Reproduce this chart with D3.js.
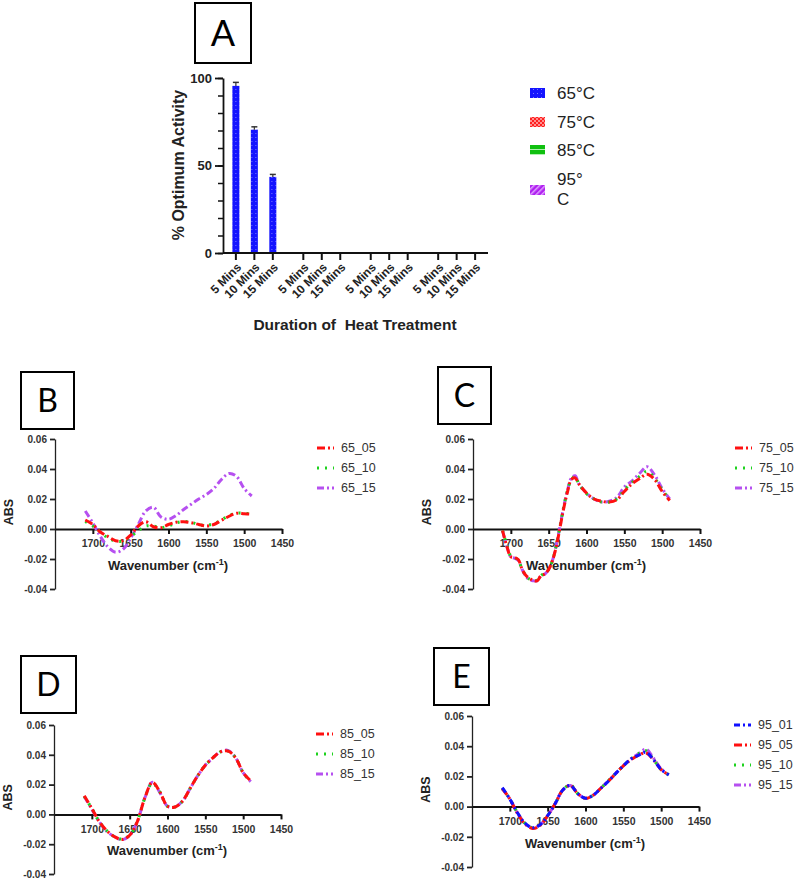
<!DOCTYPE html>
<html>
<head>
<meta charset="utf-8">
<script src="https://cdn.jsdelivr.net/npm/d3@7"></script>
<style>
  body { margin: 0; background: #fff; }
  text { font-family: 'Liberation Sans', Arial, sans-serif; }
</style>
</head>
<body>
<div id="chart"></div>
<script>
// ---------- Panel A data ----------
const temps = ['65°C', '75°C', '85°C', '95°C'];
const durations = ['5 Mins', '10 Mins', '15 Mins'];
const activity65 = [95.5, 70.5, 43.5];
const activity75 = [0, 0, 0];
const activity85 = [0, 0, 0];
const activity95 = [0, 0, 0];
const err65 = [2.0, 1.6, 1.4];
const err75 = [0, 0, 0];
const err85 = [0, 0, 0];
const err95 = [0, 0, 0];
const activityTicks = [0, 50, 100];

// ---------- FTIR spectra ----------
const absTicks = [-0.04, -0.02, 0, 0.02, 0.04, 0.06];
const wavenumberTicks = [1700, 1650, 1600, 1550, 1500, 1450];

const wnGrid = [1710, 1700, 1690, 1680, 1670, 1660, 1650, 1640, 1630, 1620, 1610, 1600,
                1590, 1580, 1570, 1560, 1550, 1540, 1530, 1520, 1510, 1500, 1490];

const abs65_05 = [0.006, 0.003, -0.002, -0.005, -0.0078, -0.0078, -0.004, 0.002, 0.0048, 0.0015, 0.0008, 0.003,
                  0.0045, 0.0048, 0.0042, 0.003, 0.002, 0.003, 0.0058, 0.0085, 0.0105, 0.0102, 0.0098];
const abs65_10 = [0.005, 0.002, -0.002, -0.006, -0.008, -0.008, -0.005, -0.001, 0.002, 0.002, 0.001, 0.002,
                  0.004, 0.005, 0.0045, 0.003, 0.0025, 0.0035, 0.006, 0.009, 0.0105, 0.0105, 0.010];
const abs65_15 = [0.012, 0.004, -0.005, -0.012, -0.0155, -0.0135, -0.006, 0.003, 0.012, 0.0145, 0.008, 0.0065,
                  0.009, 0.013, 0.0165, 0.020, 0.023, 0.027, 0.033, 0.037, 0.035, 0.027, 0.022];

const wnC = [1711, 1705, 1700, 1695, 1690, 1685, 1680, 1675, 1670, 1665, 1660, 1655, 1650, 1645, 1640,
             1635, 1630, 1625, 1620, 1615, 1610, 1600, 1590, 1580, 1570, 1560, 1550, 1540, 1530, 1520,
             1510, 1500, 1490];
const abs75_05 = [-0.001, -0.012, -0.0185, -0.019, -0.0205, -0.027, -0.031, -0.033, -0.0345, -0.0345, -0.031,
                  -0.030, -0.027, -0.021, -0.012, 0.001, 0.014, 0.025, 0.033, 0.034, 0.030, 0.024, 0.020,
                  0.0185, 0.018, 0.0195, 0.025, 0.030, 0.0335, 0.0365, 0.033, 0.025, 0.019];
const abs75_10 = [-0.001, -0.011, -0.018, -0.019, -0.021, -0.027, -0.031, -0.0335, -0.0345, -0.034, -0.031,
                  -0.0295, -0.027, -0.021, -0.011, 0.002, 0.015, 0.026, 0.033, 0.035, 0.030, 0.0235, 0.020,
                  0.018, 0.018, 0.020, 0.026, 0.031, 0.035, 0.0385, 0.034, 0.026, 0.020];
const abs75_15 = [-0.001, -0.012, -0.0185, -0.0195, -0.021, -0.027, -0.0315, -0.034, -0.0345, -0.0345, -0.031,
                  -0.030, -0.027, -0.021, -0.011, 0.002, 0.015, 0.026, 0.034, 0.0355, 0.030, 0.024, 0.020,
                  0.018, 0.0185, 0.021, 0.028, 0.032, 0.037, 0.0415, 0.036, 0.027, 0.020];

const abs85_05 = [0.0125, 0.004, -0.005, -0.011, -0.015, -0.0168, -0.014, -0.005, 0.011, 0.0215, 0.015, 0.0055,
                  0.005, 0.009, 0.0175, 0.026, 0.033, 0.038, 0.042, 0.0425, 0.038, 0.028, 0.0225];
const abs85_10 = [0.012, 0.004, -0.005, -0.011, -0.015, -0.0165, -0.014, -0.005, 0.011, 0.021, 0.015, 0.0055,
                  0.005, 0.009, 0.0175, 0.026, 0.033, 0.038, 0.042, 0.0425, 0.038, 0.028, 0.022];
const abs85_15 = [0.012, 0.0035, -0.005, -0.0115, -0.015, -0.017, -0.014, -0.005, 0.011, 0.0215, 0.0145, 0.0055,
                  0.005, 0.009, 0.0175, 0.026, 0.033, 0.038, 0.042, 0.043, 0.038, 0.028, 0.022];

const abs95_01 = [0.0125, 0.005, -0.004, -0.011, -0.014, -0.012, -0.006, 0.002, 0.011, 0.014, 0.0085, 0.0055,
                  0.0075, 0.012, 0.0167, 0.022, 0.027, 0.0315, 0.034, 0.036, 0.031, 0.0245, 0.021];
const abs95_05 = [0.012, 0.005, -0.0045, -0.0115, -0.0145, -0.0125, -0.006, 0.002, 0.011, 0.014, 0.0085, 0.0055,
                  0.0075, 0.012, 0.0167, 0.022, 0.027, 0.031, 0.034, 0.0355, 0.031, 0.0245, 0.021];
const abs95_10 = [0.012, 0.005, -0.004, -0.011, -0.014, -0.012, -0.006, 0.002, 0.011, 0.0145, 0.0085, 0.0055,
                  0.0075, 0.012, 0.017, 0.022, 0.027, 0.0315, 0.035, 0.037, 0.031, 0.0245, 0.021];
const abs95_15 = [0.012, 0.005, -0.004, -0.011, -0.014, -0.012, -0.006, 0.002, 0.011, 0.014, 0.0085, 0.0055,
                  0.0075, 0.012, 0.017, 0.022, 0.027, 0.0315, 0.035, 0.038, 0.032, 0.025, 0.021];

const RED = '#ff1010', GREEN = '#1ed21e', PURPLE = '#b650f0', BLUE = '#1010ff';

const svg = d3.select('#chart').append('svg')
  .attr('width', 795)
  .attr('height', 881);

// ---------- patterns for bar fills ----------
const defs = svg.append('defs');
const pBlue = defs.append('pattern').attr('id', 'p65').attr('patternUnits', 'userSpaceOnUse')
  .attr('width', 4).attr('height', 4);
pBlue.append('rect').attr('width', 4).attr('height', 4).attr('fill', '#1414ff');
pBlue.append('rect').attr('x', 1).attr('y', 1).attr('width', 1).attr('height', 1).attr('fill', '#7a7aff');

const pRed = defs.append('pattern').attr('id', 'p75').attr('patternUnits', 'userSpaceOnUse')
  .attr('width', 4).attr('height', 4);
pRed.append('rect').attr('width', 4).attr('height', 4).attr('fill', '#ff9090');
pRed.append('rect').attr('width', 2).attr('height', 2).attr('fill', '#ff2020');
pRed.append('rect').attr('x', 2).attr('y', 2).attr('width', 2).attr('height', 2).attr('fill', '#ff2020');

const pGreen = defs.append('pattern').attr('id', 'p85').attr('patternUnits', 'userSpaceOnUse')
  .attr('width', 4).attr('height', 5);
pGreen.append('rect').attr('width', 4).attr('height', 5).attr('fill', '#10c010');
pGreen.append('rect').attr('y', 4).attr('width', 4).attr('height', 1).attr('fill', '#b0f0b0');

const pPurple = defs.append('pattern').attr('id', 'p95').attr('patternUnits', 'userSpaceOnUse')
  .attr('width', 4).attr('height', 4).attr('patternTransform', 'rotate(45)');
pPurple.append('rect').attr('width', 4).attr('height', 4).attr('fill', '#b020f0');
pPurple.append('rect').attr('width', 1.5).attr('height', 4).attr('fill', '#e0a0ff');

// ---------- label boxes ----------
function labelBox(letter, x, y, w, h, size) {
  svg.append('rect').attr('x', x).attr('y', y).attr('width', w).attr('height', h)
    .attr('fill', 'none').attr('stroke', '#000').attr('stroke-width', 2);
  svg.append('text').attr('x', x + w / 2).attr('y', y + h / 2).attr('dy', '0.36em')
    .attr('text-anchor', 'middle').style('font-family', 'Lato, sans-serif')
    .style('font-size', size + 'px').text(letter);
}
labelBox('A', 195, 3, 56, 60, 36);
labelBox('B', 21, 372, 53, 57, 32);
labelBox('C', 438, 367, 53, 57, 32);
labelBox('D', 21, 656, 55, 57, 32);
labelBox('E', 434, 648, 55, 57, 32);

// ---------- Panel A: bar chart ----------
const barSeries = [
  { temp: temps[0], values: activity65, errs: err65, fill: 'url(#p65)' },
  { temp: temps[1], values: activity75, errs: err75, fill: 'url(#p75)' },
  { temp: temps[2], values: activity85, errs: err85, fill: 'url(#p85)' },
  { temp: temps[3], values: activity95, errs: err95, fill: 'url(#p95)' }
];

const xGroup = d3.scaleBand().domain(temps).range([223, 488]).paddingInner(0.17).paddingOuter(0.05);
const xDur = d3.scaleBand().domain(durations).range([0, xGroup.bandwidth()])
  .paddingInner(0.62).paddingOuter(0.325);
const yAct = d3.scaleLinear().domain([0, 100]).range([253, 78]);

const gA = svg.append('g');

barSeries.forEach(s => {
  const grp = gA.append('g').attr('transform', `translate(${xGroup(s.temp)},0)`);
  durations.forEach((d, i) => {
    const v = s.values[i];
    const bx = xDur(d);
    if (v > 0) {
      grp.append('rect')
        .attr('x', bx).attr('y', yAct(v))
        .attr('width', xDur.bandwidth()).attr('height', yAct(0) - yAct(v))
        .attr('fill', s.fill);
      const cx = bx + xDur.bandwidth() / 2;
      grp.append('line').attr('x1', cx).attr('x2', cx)
        .attr('y1', yAct(v)).attr('y2', yAct(v + s.errs[i]))
        .attr('stroke', '#333').attr('stroke-width', 1.2);
      grp.append('line').attr('x1', cx - 3).attr('x2', cx + 3)
        .attr('y1', yAct(v + s.errs[i])).attr('y2', yAct(v + s.errs[i]))
        .attr('stroke', '#333').attr('stroke-width', 1.5);
    }
    // x tick + rotated label
    const tx = bx + xDur.bandwidth() / 2;
    grp.append('line').attr('x1', tx).attr('x2', tx).attr('y1', 253).attr('y2', 260)
      .attr('stroke', '#111').attr('stroke-width', 2);
    grp.append('text')
      .attr('transform', `translate(${tx + 3},265) rotate(-45)`)
      .attr('text-anchor', 'end').attr('dy', '0.35em')
      .style('font-size', '12px').style('font-weight', 'bold').attr('fill', '#222')
      .text(d);
  });
});

// x axis line
gA.append('line').attr('x1', 223).attr('x2', 488).attr('y1', 253).attr('y2', 253)
  .attr('stroke', '#111').attr('stroke-width', 2.2);

// y axis (major + minor)
const yAxisA = gA.append('g').attr('transform', 'translate(223,0)')
  .call(d3.axisLeft(yAct).tickValues(activityTicks).tickSize(8).tickSizeOuter(0).tickPadding(3));
yAxisA.select('.domain').attr('stroke', '#111').attr('stroke-width', 1.8);
yAxisA.selectAll('.tick line').attr('stroke', '#111').attr('stroke-width', 1.8);
yAxisA.selectAll('text').style('font-size', '13px').style('font-weight', 'bold')
  .attr('fill', '#222').style('font-family', "'Liberation Sans', Arial, sans-serif");
gA.append('g').attr('transform', 'translate(223,0)')
  .call(d3.axisLeft(yAct).ticks(10).tickSize(5).tickFormat(''))
  .call(g => g.select('.domain').remove())
  .selectAll('.tick line').attr('stroke', '#111').attr('stroke-width', 1.5);

gA.append('text')
  .attr('transform', 'translate(184,165) rotate(-90)')
  .attr('text-anchor', 'middle')
  .style('font-size', '16px').style('font-weight', 'bold').attr('fill', '#222')
  .text('% Optimum Activity');

gA.append('text')
  .attr('x', 355).attr('y', 330).attr('text-anchor', 'middle')
  .style('font-size', '15.5px').style('font-weight', 'bold').attr('fill', '#222')
  .attr('xml:space', 'preserve').style('white-space', 'pre')
  .text('Duration of  Heat Treatment');

// legend A
const legA = [
  { fill: 'url(#p65)', y: 88, lines: ['65°C'] },
  { fill: 'url(#p75)', y: 117, lines: ['75°C'] },
  { fill: 'url(#p85)', y: 145, lines: ['85°C'] },
  { fill: 'url(#p95)', y: 185, lines: ['95°', 'C'] }
];
legA.forEach((d, i) => {
  gA.append('rect').attr('x', 530).attr('y', d.y).attr('width', 15).attr('height', 10)
    .attr('fill', d.fill);
  const t = gA.append('text').attr('x', 557)
    .style('font-size', '17px').attr('fill', '#222');
  if (d.lines.length === 1) {
    t.attr('y', d.y + 11).text(d.lines[0]);
  } else {
    t.attr('y', 185);
    t.append('tspan').attr('x', 557).text(d.lines[0]);
    t.append('tspan').attr('x', 557).attr('dy', 20).text(d.lines[1]);
  }
});

// ---------- Spectrum panels ----------
const dashes = { red: '8,3,2,3', green: '2,6', purple: '7,3,2,3', blue: '6,3,2,3' };

function drawSpectrum(left, top, height, wn, series) {
  const g = svg.append('g');
  const x = d3.scaleLinear().domain([1750, 1450]).range([left, left + 227]);
  const y = d3.scaleLinear().domain([-0.04, 0.06]).range([top + height, top]);

  const yAx = g.append('g').attr('transform', `translate(${left},0)`)
    .call(d3.axisLeft(y).tickValues(absTicks).tickSize(5).tickSizeOuter(0).tickPadding(3)
      .tickFormat(d => d.toFixed(2)));
  yAx.select('.domain').attr('stroke', '#222').attr('stroke-width', 1.3);
  yAx.selectAll('.tick line').attr('stroke', '#222').attr('stroke-width', 1.8);
  yAx.selectAll('text').style('font-size', '10px').style('font-weight', 'bold')
    .attr('fill', '#333').style('font-family', "'Liberation Sans', Arial, sans-serif");

  const xAx = g.append('g').attr('transform', `translate(0,${y(0)})`)
    .call(d3.axisBottom(x).tickValues(wavenumberTicks).tickSize(5).tickSizeOuter(0).tickPadding(6)
      .tickFormat(d3.format('d')));
  xAx.select('.domain').attr('stroke', '#111').attr('stroke-width', 2);
  xAx.selectAll('.tick line').attr('stroke', '#111').attr('stroke-width', 2);
  xAx.selectAll('text').style('font-size', '10.5px').style('font-weight', 'bold')
    .attr('fill', '#333').style('font-family', "'Liberation Sans', Arial, sans-serif");

  const t = g.append('text').attr('x', left + 113).attr('y', y(0) + 41)
    .attr('text-anchor', 'middle').style('font-size', '13px').style('font-weight', 'bold')
    .attr('fill', '#222');
  t.append('tspan').text('Wavenumber (cm');
  t.append('tspan').attr('dy', -5).style('font-size', '9px').text('-1');
  t.append('tspan').attr('dy', 5).text(')');

  g.append('text')
    .attr('transform', `translate(${left - 46},${y(0) - 17}) rotate(-90)`)
    .attr('text-anchor', 'middle').attr('dy', '0.35em')
    .style('font-size', '12.5px').style('font-weight', 'bold')
    .attr('fill', '#222').text('ABS');

  const line = d3.line().x((d, i) => x(wn[i])).y(d => y(d)).curve(d3.curveCatmullRom.alpha(0.5));

  // later series drawn first so the first series sits on top
  series.slice().reverse().forEach(s => {
    g.append('path').attr('d', line(s.values))
      .attr('fill', 'none').attr('stroke', s.color).attr('stroke-width', 3)
      .attr('stroke-dasharray', s.dash);
  });

  series.forEach((s, i) => {
    const ly = top + 9 + i * 20;
    g.append('line').attr('x1', left + 262).attr('x2', left + 279)
      .attr('y1', ly).attr('y2', ly)
      .attr('stroke', s.color).attr('stroke-width', 3).attr('stroke-dasharray', s.dash);
    g.append('text').attr('x', left + 286).attr('y', ly).attr('dy', '0.35em')
      .style('font-size', '12.5px').attr('fill', '#333').text(s.name);
  });
}

drawSpectrum(55, 439, 150, wnGrid, [
  { name: '65_05', values: abs65_05, color: RED, dash: dashes.red },
  { name: '65_10', values: abs65_10, color: GREEN, dash: dashes.green },
  { name: '65_15', values: abs65_15, color: PURPLE, dash: dashes.purple }
]);
drawSpectrum(473, 439, 150, wnC, [
  { name: '75_05', values: abs75_05, color: RED, dash: dashes.red },
  { name: '75_10', values: abs75_10, color: GREEN, dash: dashes.green },
  { name: '75_15', values: abs75_15, color: PURPLE, dash: dashes.purple }
]);
drawSpectrum(54, 725, 149, wnGrid, [
  { name: '85_05', values: abs85_05, color: RED, dash: dashes.red },
  { name: '85_10', values: abs85_10, color: GREEN, dash: dashes.green },
  { name: '85_15', values: abs85_15, color: PURPLE, dash: dashes.purple }
]);
drawSpectrum(472, 716, 151, wnGrid, [
  { name: '95_01', values: abs95_01, color: BLUE, dash: dashes.blue },
  { name: '95_05', values: abs95_05, color: RED, dash: dashes.red },
  { name: '95_10', values: abs95_10, color: GREEN, dash: dashes.green },
  { name: '95_15', values: abs95_15, color: PURPLE, dash: dashes.purple }
]);
</script>
</body>
</html>
